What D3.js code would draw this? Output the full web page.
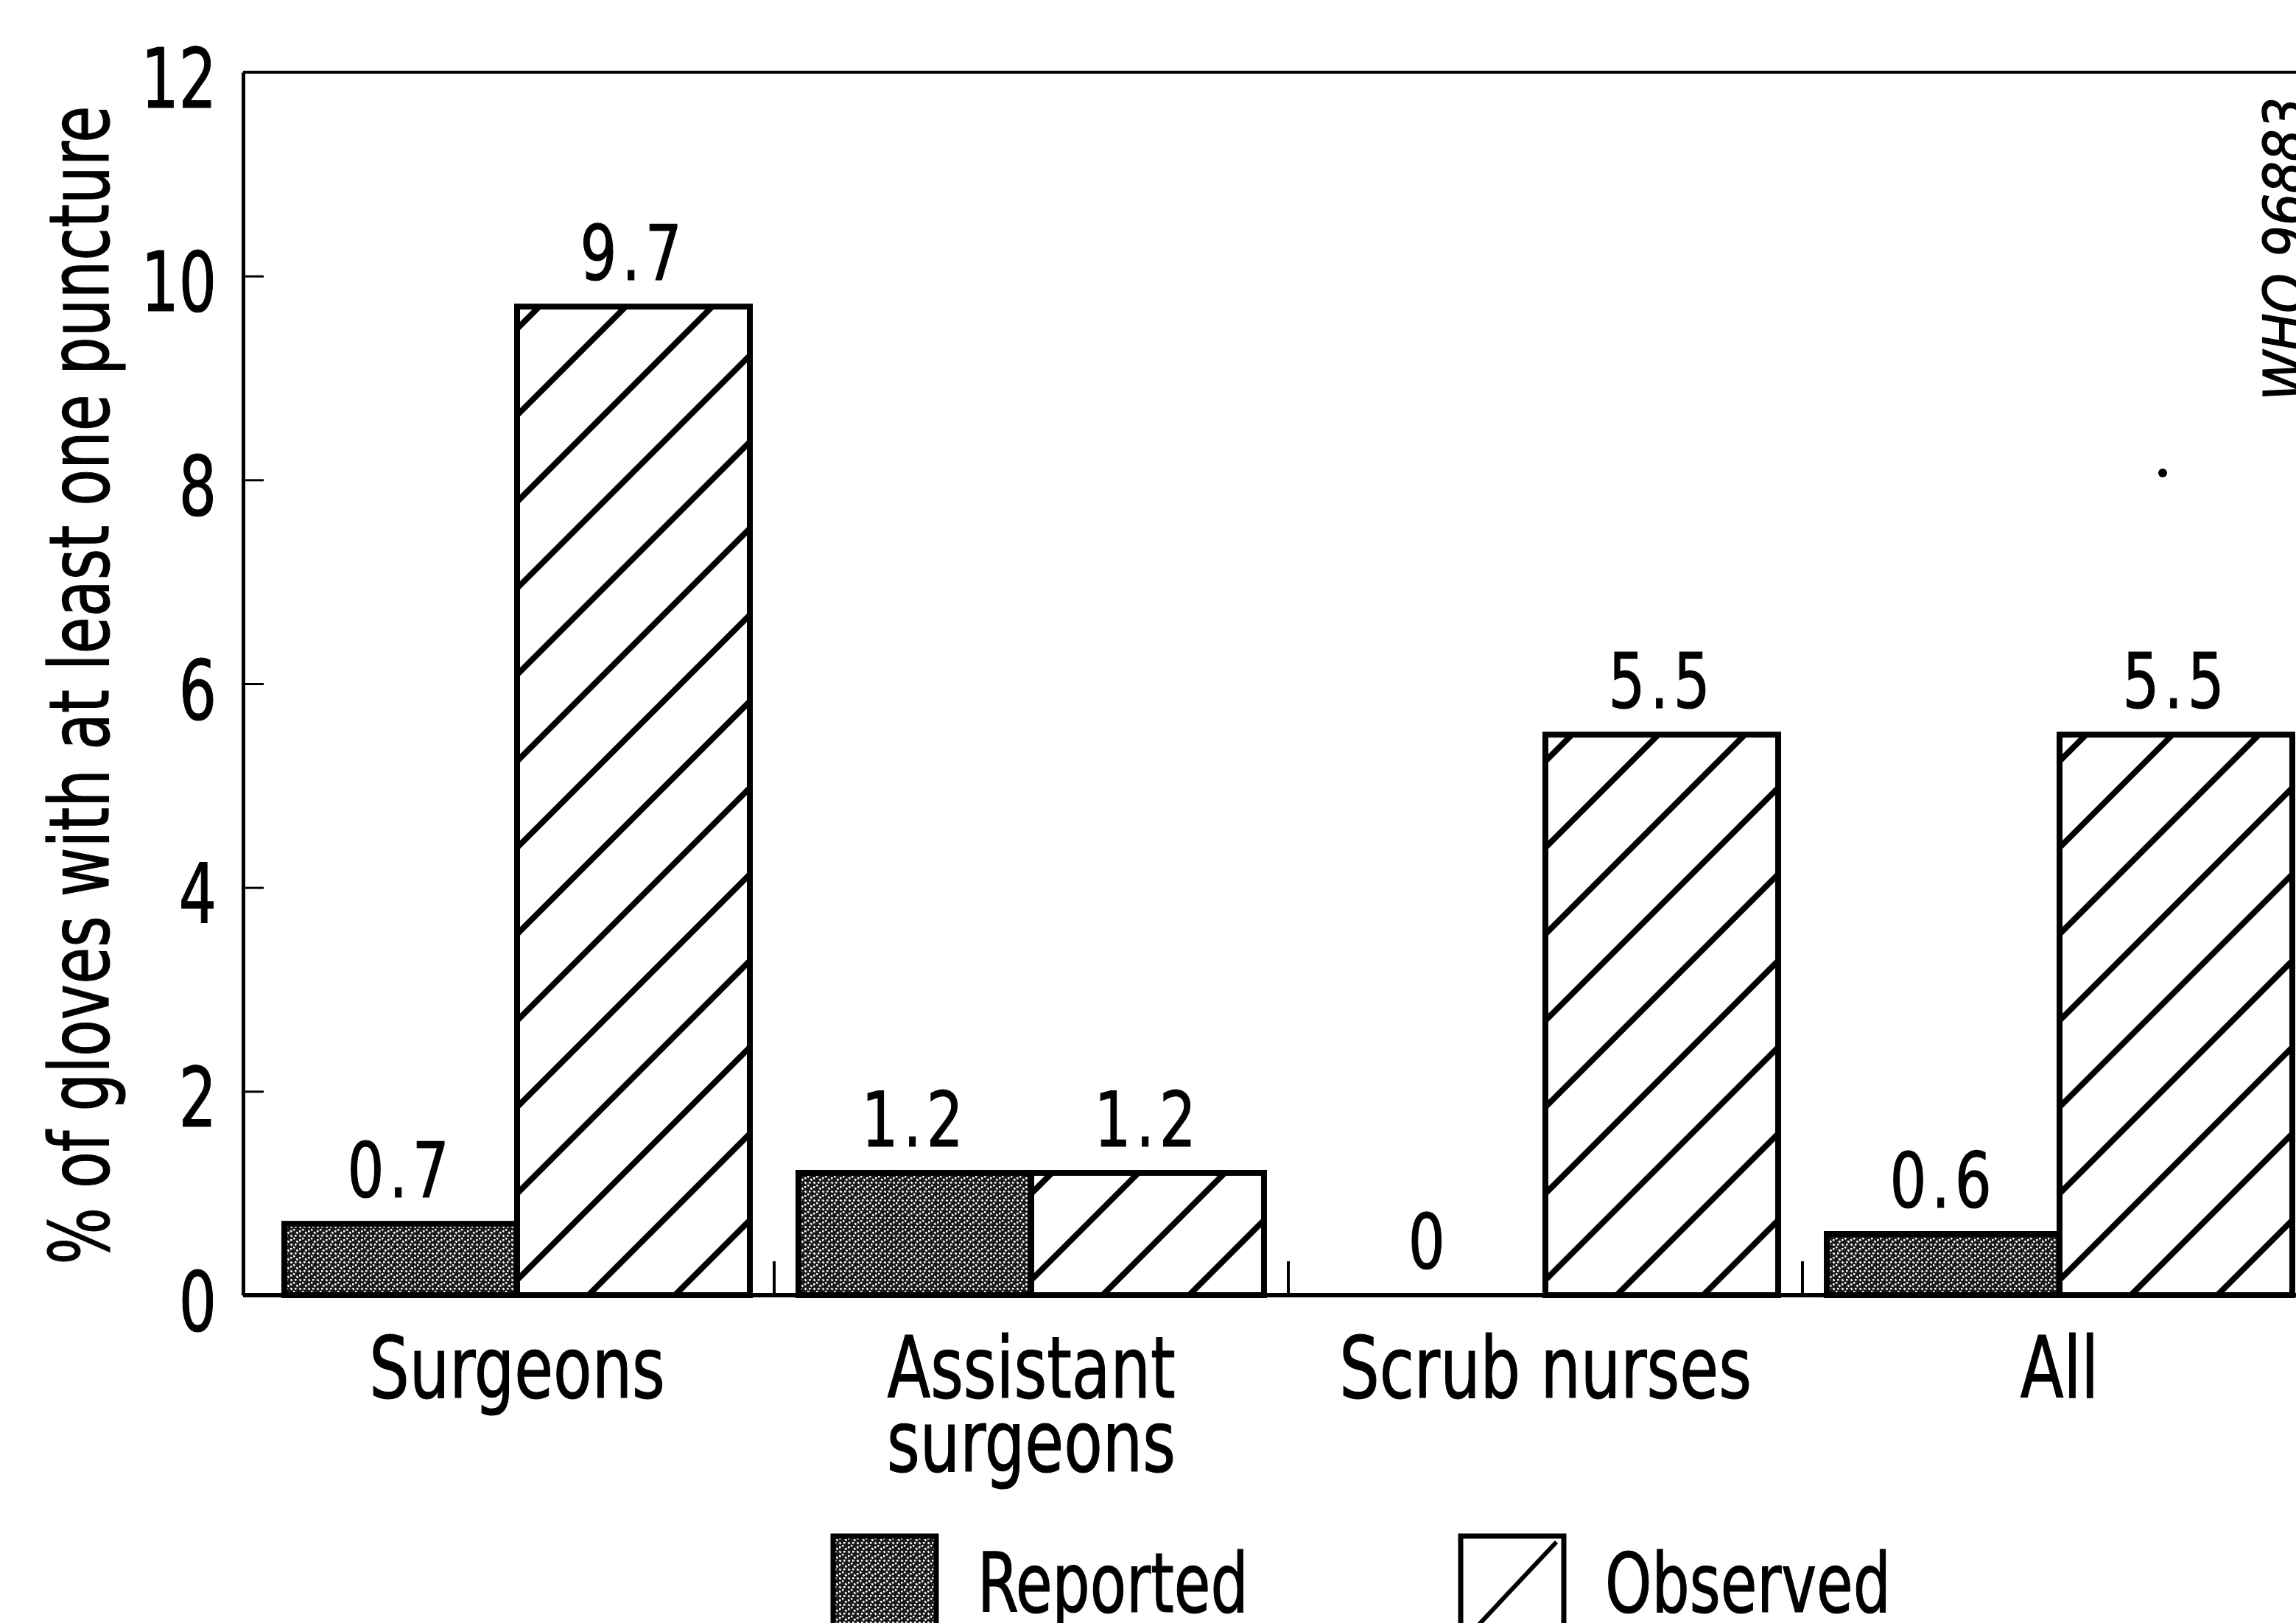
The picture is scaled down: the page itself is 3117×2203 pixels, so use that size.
<!DOCTYPE html>
<html>
<head>
<meta charset="utf-8">
<script src="https://cdn.jsdelivr.net/npm/d3@7"></script>
<style>
  body { margin: 0; background: #fff; }
  text { font-family: "Liberation Sans Narrow", "DejaVu Sans Condensed", "Arial Narrow", sans-serif; fill: #000; stroke: #000; stroke-width: 1.2px; }
</style>
</head>
<body>
<div id="chart"></div>
<script>
// data
var categories = ["Surgeons", "Assistant surgeons", "Scrub nurses", "All"];
var categoryLines = [["Surgeons"], ["Assistant", "surgeons"], ["Scrub nurses"], ["All"]];
var series = ["Reported", "Observed"];
var reported = [0.7, 1.2, 0, 0.6];
var observed = [9.7, 1.2, 5.5, 5.5];
var yTicks = [0, 2, 4, 6, 8, 10, 12];
var yTitle = "% of gloves with at least one puncture";
var stamp = "WHO 96883";

var svgWidth = 3117, svgHeight = 2203;
var axisX = 330, baseY = 1758, topY = 98;

// the printed face is narrower than the fallback fonts
function condense(sel, k) {
  sel.each(function () {
    var len = this.getComputedTextLength();
    d3.select(this).attr("textLength", len * k).attr("lengthAdjust", "spacingAndGlyphs");
  });
}

var svg = d3.select("#chart").append("svg")
  .attr("width", svgWidth)
  .attr("height", svgHeight);

svg.append("rect").attr("width", svgWidth).attr("height", svgHeight).attr("fill", "#fff");

// fills
var defs = svg.append("defs");
var stip = defs.append("pattern")
  .attr("id", "stipple")
  .attr("patternUnits", "userSpaceOnUse")
  .attr("width", 12).attr("height", 12);
stip.append("rect").attr("width", 12).attr("height", 12).attr("fill", "#1a1a1a");
stip.append("path").attr("d", "M0,0L12,12")
  .attr("stroke", "#fff").attr("stroke-width", 2.4).attr("stroke-dasharray", "3,3");
stip.append("rect").attr("x", 8).attr("y", 2).attr("width", 2.5).attr("height", 2.5).attr("fill", "#fff");
stip.append("rect").attr("x", 2).attr("y", 8).attr("width", 2.5).attr("height", 2.5).attr("fill", "#fff");

var hatch = defs.append("pattern")
  .attr("id", "hatch")
  .attr("patternUnits", "userSpaceOnUse")
  .attr("width", 83).attr("height", 83)
  .attr("patternTransform", "rotate(45)");
hatch.append("rect").attr("width", 83).attr("height", 83).attr("fill", "#fff");
hatch.append("line").attr("x1", 41).attr("x2", 41).attr("y1", 0).attr("y2", 83)
  .attr("stroke", "#000").attr("stroke-width", 8);

var fills = { "Reported": "url(#stipple)", "Observed": "url(#hatch)" };

// scales
var x0 = d3.scaleBand()
  .domain(categories)
  .range([353, 3145])
  .paddingInner(0.0946)
  .paddingOuter(0.0473);

var x1 = d3.scaleBand()
  .domain(series)
  .range([0, x0.bandwidth()]);

var y = d3.scaleLinear()
  .domain([0, 12])
  .range([baseY, topY]);

var rows = categories.map(function (c, i) {
  return { cat: c, values: [
    { key: "Reported", value: reported[i] },
    { key: "Observed", value: observed[i] }
  ] };
});

// top frame line
svg.append("line")
  .attr("x1", axisX).attr("x2", svgWidth)
  .attr("y1", y(12)).attr("y2", y(12))
  .attr("stroke", "#000").attr("stroke-width", 4);

// y axis
var yAxis = svg.append("g")
  .attr("transform", "translate(" + axisX + ",0)")
  .call(d3.axisLeft(y).tickValues(yTicks).tickSizeInner(-28).tickSizeOuter(0).tickPadding(36));
yAxis.select(".domain").attr("stroke", "#000").attr("stroke-width", 5);
yAxis.selectAll(".tick line").attr("stroke", "#000").attr("stroke-width", 3);
yAxis.selectAll(".tick text")
  .attr("font-size", 112)
  .attr("dy", "0.42em")
  .style("font-family", "'Liberation Sans Narrow', 'DejaVu Sans Condensed', sans-serif");
condense(yAxis.selectAll(".tick text"), 0.8);

// bars
var group = svg.selectAll("g.group")
  .data(rows)
  .enter().append("g")
  .attr("class", "group")
  .attr("transform", function (d) { return "translate(" + x0(d.cat) + ",0)"; });

group.selectAll("rect")
  .data(function (d) { return d.values.filter(function (v) { return v.value > 0; }); })
  .enter().append("rect")
  .attr("x", function (d) { return x1(d.key); })
  .attr("y", function (d) { return y(d.value); })
  .attr("width", x1.bandwidth())
  .attr("height", function (d) { return baseY - y(d.value); })
  .attr("fill", function (d) { return fills[d.key]; })
  .attr("stroke", "#000")
  .attr("stroke-width", 8);

// value labels
var vals = group.selectAll("text.val")
  .data(function (d) { return d.values; })
  .enter().append("text")
  .attr("class", "val")
  .attr("x", function (d) { return x1(d.key) + x1.bandwidth() / 2; })
  .attr("y", function (d) { return y(d.value) - 36; })
  .attr("text-anchor", "middle")
  .attr("font-size", 104)
  .attr("letter-spacing", 8)
  .text(function (d) { return d.value; });
condense(vals, 0.84);

// baseline
svg.append("line")
  .attr("x1", axisX).attr("x2", svgWidth)
  .attr("y1", baseY).attr("y2", baseY)
  .attr("stroke", "#000").attr("stroke-width", 6);

// small separators between groups
svg.selectAll("line.sep")
  .data(categories.slice(0, -1))
  .enter().append("line")
  .attr("class", "sep")
  .attr("x1", function (d) { return x0(d) + x0.bandwidth() + x0.step() * x0.paddingInner() / 2; })
  .attr("x2", function (d) { return x0(d) + x0.bandwidth() + x0.step() * x0.paddingInner() / 2; })
  .attr("y1", baseY).attr("y2", baseY - 46)
  .attr("stroke", "#000").attr("stroke-width", 4);

// category labels, one text per printed line
var catLines = [];
categories.forEach(function (c, i) {
  categoryLines[i].forEach(function (line, j) { catLines.push({ cat: c, line: line, row: j }); });
});
var cats = svg.selectAll("text.cat")
  .data(catLines)
  .enter().append("text")
  .attr("class", "cat")
  .attr("text-anchor", "middle")
  .attr("font-size", 115)
  .attr("x", function (d) { return x0(d.cat) + x0.bandwidth() / 2; })
  .attr("y", function (d) { return 1897 + d.row * 100; })
  .text(function (d) { return d.line; });
condense(cats, 0.83);

// y title
var yt = svg.append("text")
  .attr("transform", "translate(147,930) rotate(-90)")
  .attr("text-anchor", "middle")
  .attr("font-size", 112)
  .text(yTitle);
condense(yt, 0.81);

// legend
var legendX = [1131, 1983];
var legend = svg.selectAll("g.legend")
  .data(series)
  .enter().append("g")
  .attr("class", "legend")
  .attr("transform", function (d, i) { return "translate(" + legendX[i] + ",2085)"; });

legend.append("rect")
  .attr("width", 140).attr("height", 140)
  .attr("fill", function (d) { return d === "Reported" ? "url(#stipple)" : "#fff"; })
  .attr("stroke", "#000").attr("stroke-width", 7);

legend.filter(function (d) { return d === "Observed"; })
  .append("line")
  .attr("x1", 6).attr("y1", 140).attr("x2", 130).attr("y2", 8)
  .attr("stroke", "#000").attr("stroke-width", 6);

var legText = legend.append("text")
  .attr("x", 196).attr("y", 103)
  .attr("font-size", 112)
  .text(function (d) { return d; });
condense(legText, 0.8);

// figure stamp on the right edge
svg.append("text")
  .attr("transform", "translate(3128,338) rotate(-90)")
  .attr("text-anchor", "middle")
  .attr("font-size", 76)
  .attr("font-style", "italic")
  .text(stamp);

svg.append("circle").attr("cx", 2936).attr("cy", 642).attr("r", 6).attr("fill", "#000");
</script>
</body>
</html>
